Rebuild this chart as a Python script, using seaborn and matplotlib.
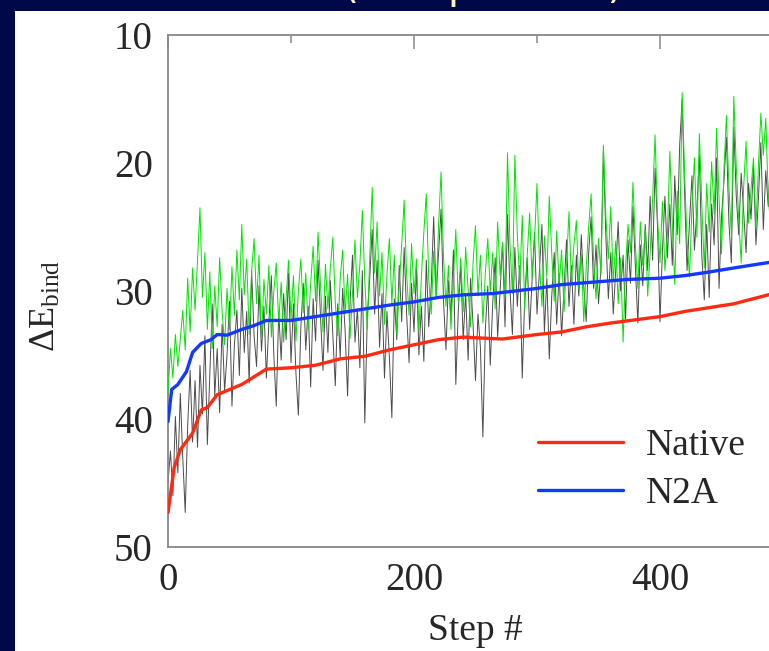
import matplotlib
matplotlib.use("Agg")
import matplotlib.pyplot as plt
import seaborn as sns
from matplotlib.patches import Rectangle
from matplotlib.ticker import MultipleLocator

sns.set_style("white")
plt.rcParams["font.family"] = ["Liberation Serif", "DejaVu Serif"]
plt.rcParams["mathtext.fontset"] = "custom"
plt.rcParams["mathtext.rm"] = "Liberation Serif"
plt.rcParams["mathtext.it"] = "Liberation Serif:italic"

# Sampled trajectory steps for the per-step energies
raw_steps = list(range(0, 501, 2))

# N2A binding energy at each sampled step
n2a_raw = [
    38.0, 34.5, 36.8, 33.4, 35.9, 33.8, 31.5, 34.6, 29.0, 33.2,
    28.2, 31.5, 27.6, 23.5, 30.5, 27.0, 33.0, 28.5, 34.5, 29.6,
    32.8, 27.4, 31.6, 34.2, 29.8, 33.0, 28.1, 31.9, 26.8, 30.7,
    24.8, 30.3, 27.5, 33.4, 28.4, 25.9, 31.0, 27.2, 33.8, 29.1,
    31.8, 28.0, 33.6, 30.1, 27.8, 32.5, 29.3, 34.0, 30.6, 27.6,
    32.2, 28.8, 33.9, 30.0, 27.5, 31.7, 28.6, 33.0, 29.4, 26.5,
    30.8, 25.4, 29.6, 33.2, 27.9, 31.4, 28.2, 25.8, 30.9, 33.5,
    29.0, 26.8, 31.8, 28.7, 33.7, 30.2, 26.0, 30.5, 27.9, 23.7,
    29.2, 33.0, 27.4, 21.9, 28.6, 24.6, 30.4, 27.0, 32.6, 28.8,
    25.9, 31.0, 27.2, 33.4, 29.6, 26.4, 22.9, 28.7, 31.9, 26.3,
    30.2, 27.5, 33.1, 28.9, 25.4, 22.4, 29.1, 31.8, 26.9, 30.5,
    24.8, 20.7, 27.3, 31.2, 28.0, 33.0, 29.1, 25.2, 30.8, 27.4,
    31.6, 26.6, 29.9, 32.8, 27.8, 24.9, 30.4, 27.2, 32.5, 28.6,
    25.9, 30.1, 27.0, 31.4, 24.6, 28.8, 26.2, 30.5, 19.2, 26.3,
    30.2, 19.4, 25.6, 29.4, 24.1, 31.5, 27.3, 23.9, 29.0, 26.0,
    21.6, 27.8, 31.2, 25.7, 28.9, 22.6, 27.1, 30.8, 25.3, 29.6,
    26.8, 31.6, 27.9, 23.8, 29.4, 26.4, 24.5, 29.9, 27.1, 32.4,
    28.2, 25.0, 22.4, 27.6, 30.6, 25.9, 28.7, 18.6, 24.2, 27.5,
    23.4, 29.3, 26.1, 31.0, 27.4, 34.0, 28.2, 24.8, 27.0, 21.5,
    26.4, 29.8, 24.6, 28.0, 25.2, 30.4, 27.0, 22.8, 17.8, 24.3,
    27.8, 23.0, 28.4, 25.6, 19.1, 24.7, 29.5, 22.2, 26.3, 14.5,
    20.8, 26.1, 28.9, 23.5, 19.6, 25.8, 17.7, 23.3, 28.2, 21.6,
    25.4, 19.9, 24.0, 17.3, 22.8, 27.1, 20.5, 16.3, 21.8, 25.6,
    14.8, 20.2, 24.4, 27.8, 21.9, 18.3, 24.7, 22.0, 19.6, 25.1,
    20.3, 16.1, 19.4, 16.5, 22.6, 25.0, 19.8, 23.4, 17.9, 21.7,
    20.5,
]

# Native binding energy at each sampled step
native_raw = [
    45.0, 42.5, 46.0, 39.8, 44.2, 38.0, 43.0, 47.3, 40.5, 36.2,
    41.8, 37.0, 42.2, 35.8, 39.6, 33.5, 42.0, 36.4, 31.0, 38.2,
    34.5, 39.5, 32.6, 37.8, 35.0, 30.8, 39.0, 34.2, 31.5, 36.6,
    29.8, 34.8, 31.6, 37.2, 28.4, 33.5, 35.9, 29.6, 34.7, 31.2,
    36.8, 32.5, 28.8, 34.9, 39.0, 31.6, 35.4, 30.2, 33.8, 28.6,
    35.6, 31.0, 36.4, 39.7, 32.8, 29.4, 34.6, 31.2, 37.5, 30.6,
    33.9, 27.6, 32.0, 36.2, 30.4, 34.8, 29.2, 33.4, 37.4, 31.0,
    35.2, 29.8, 33.1, 38.2, 30.9, 27.2, 34.0, 31.4, 36.0, 28.4,
    40.3, 32.1, 29.0, 25.2, 31.8, 27.6, 34.4, 30.2, 36.8, 31.6,
    35.2, 39.9, 30.6, 33.8, 28.0, 32.4, 26.6, 31.8, 35.6, 29.4,
    33.2, 28.2, 35.0, 31.2, 35.5, 27.6, 32.8, 29.6, 24.2, 30.4,
    27.0, 23.6, 30.8, 34.6, 29.2, 32.0, 26.8, 37.3, 31.6, 28.0,
    33.8, 30.2, 35.4, 29.0, 32.6, 37.0, 31.8, 34.4, 41.4, 33.0,
    29.6, 35.8, 31.0, 27.4, 33.6, 30.0, 26.2, 32.8, 24.0, 29.8,
    33.4, 26.6, 31.2, 28.0, 36.8, 30.6, 27.4, 33.0, 29.2, 25.4,
    31.8, 28.4, 24.8, 33.2, 29.0, 35.3, 30.4, 27.0, 32.6, 28.6,
    33.5, 29.8, 26.0, 31.2, 28.0, 32.6, 27.2, 30.4, 25.6, 29.6,
    32.4, 27.0, 24.2, 29.8, 26.4, 31.0, 28.2, 19.0, 25.8, 30.6,
    27.0, 31.8, 28.4, 24.6, 30.0, 27.2, 32.2, 26.0, 29.4, 23.4,
    28.2, 32.5, 26.4, 29.6, 24.8, 28.4, 22.6, 27.6, 20.4, 25.0,
    32.4, 26.8, 22.6, 27.4, 23.2, 28.0, 21.0, 25.6, 18.6, 15.0,
    22.4, 28.4, 24.6, 21.0, 26.8, 23.6, 19.4, 27.2, 30.7, 24.8,
    30.5, 23.2, 26.4, 19.6, 29.8, 24.2, 21.4, 18.0, 24.6, 27.8,
    17.2, 22.6, 25.6, 20.8, 23.8, 27.0, 21.6, 24.4, 20.2, 26.4,
    22.8, 18.4, 25.2, 20.6, 23.4, 19.2, 22.0, 24.8, 20.0, 23.0,
    21.8,
]

# Running averages
native_avg_steps = [0, 5, 10, 20, 27, 32, 40, 50, 60, 70, 80, 100, 120, 140,
                    160, 180, 200, 220, 240, 260, 272, 300, 320, 340, 360,
                    380, 400, 420, 440, 460, 480, 500]
native_avg = [47.3, 43.8, 42.4, 41.1, 39.3, 39.1, 38.1, 37.7, 37.3, 36.7,
              36.1, 36.0, 35.8, 35.3, 35.1, 34.6, 34.2, 33.8, 33.6, 33.7,
              33.75, 33.4, 33.2, 32.8, 32.5, 32.25, 32.0, 31.6, 31.3, 31.0,
              30.5, 30.0]

n2a_avg_steps = [0, 3, 8, 15, 20, 27, 35, 40, 48, 60, 70, 80, 100, 120, 140,
                 160, 180, 200, 220, 240, 264, 300, 320, 340, 373, 400, 420,
                 441, 460, 480, 500]
n2a_avg = [40.2, 37.7, 37.3, 36.3, 34.8, 34.1, 33.8, 33.4, 33.45, 33.0,
           32.7, 32.3, 32.3, 32.0, 31.7, 31.4, 31.1, 30.85, 30.5, 30.3,
           30.2, 29.8, 29.5, 29.35, 29.1, 29.0, 28.8, 28.5, 28.2, 27.9,
           27.6]

W, H = 769, 651
fig = plt.figure(figsize=(W / 100, H / 100), dpi=100, facecolor="#00084a")
fig.add_artist(Rectangle((15 / W, 0), 1, 1 - 11 / H, transform=fig.transFigure,
                         facecolor="white", edgecolor="none", zorder=0))
fig.text(36 / W, 1 + 2 / H, "Native vs N2A (competition)", color="#fff6c0",
         fontsize=30, family="DejaVu Sans", va="baseline", ha="left")

ax = fig.add_axes([168 / W, 104 / H, 615 / W, 512 / H])
ax.set_facecolor("white")

sns.lineplot(x=raw_steps, y=native_raw, ax=ax, color="black", lw=0.7,
             alpha=0.7, zorder=2)
sns.lineplot(x=raw_steps, y=n2a_raw, ax=ax, color="#00e400", lw=0.7, zorder=3)
sns.lineplot(x=native_avg_steps, y=native_avg, ax=ax, color="#ff2a12", lw=2.4,
             label="Native", zorder=4)
sns.lineplot(x=n2a_avg_steps, y=n2a_avg, ax=ax, color="#1438ff", lw=2.4,
             label="N2A", zorder=5)

ax.set_xlim(0, 500)
ax.set_ylim(50, 10)
ax.xaxis.set_major_locator(MultipleLocator(200))
ax.xaxis.set_minor_locator(MultipleLocator(100))
ax.yaxis.set_major_locator(MultipleLocator(10))
ax.yaxis.set_minor_locator(MultipleLocator(5))
ax.tick_params(which="both", direction="in", top=True, right=True,
               color="#888888", width=1.1, labelsize=28)
ax.tick_params(which="major", length=10)
ax.tick_params(which="minor", length=5.5)
ax.tick_params(axis="x", pad=11)
ax.tick_params(axis="y", pad=11)
for s in ax.spines.values():
    s.set_color("#888888")
    s.set_linewidth(1.3)

ax.set_xlabel("Step #", fontsize=27)
ax.xaxis.set_label_coords(0.5, -0.13)
ax.set_ylabel(r"$\Delta\mathrm{E}_{\mathrm{bind}}$", fontsize=26)
ax.yaxis.set_label_coords(-0.171, 0.47)

ax.legend(loc="upper left", bbox_to_anchor=(0.6016, 0.232), frameon=False,
          fontsize=27, handlelength=2.27, handletextpad=0.6, labelspacing=0.38,
          borderpad=0, borderaxespad=0)

fig.savefig("out.png", dpi=100, facecolor=fig.get_facecolor())
